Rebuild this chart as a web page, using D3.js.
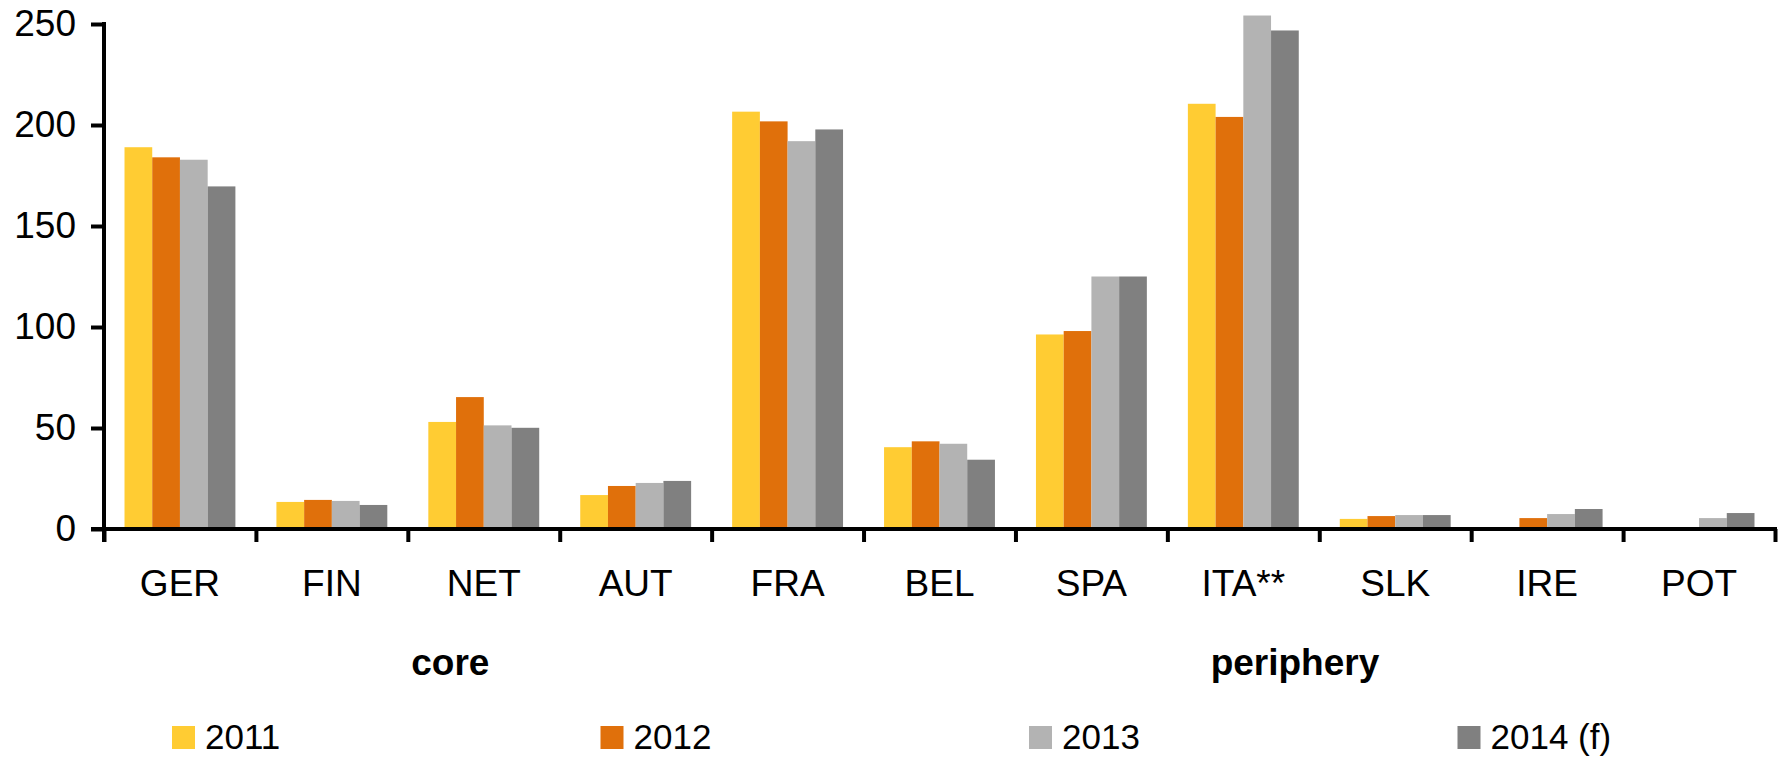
<!DOCTYPE html>
<html>
<head>
<meta charset="utf-8">
<script src="https://cdn.jsdelivr.net/npm/d3@7"></script>
<style>
  body { margin: 0; background: #fff; }
  svg { display: block; font-family: "Liberation Sans", Arial, sans-serif; }
</style>
</head>
<body>
<div id="chart"></div>
<script>
// data
const countries = ["GER", "FIN", "NET", "AUT", "FRA", "BEL", "SPA", "ITA**", "SLK", "IRE", "POT"];
const years = ["2011", "2012", "2013", "2014 (f)"];
const values2011 = [189, 13.4, 53, 16.8, 206.6, 40.5, 96.3, 210.5, 5, 0, 0];
const values2012 = [184, 14.4, 65.3, 21.3, 201.8, 43.4, 98, 204, 6.4, 5.4, 0];
const values2013 = [182.8, 13.9, 51.3, 22.8, 192, 42.2, 125, 254.2, 6.9, 7.4, 5.4];
const values2014 = [169.6, 11.9, 50.1, 23.8, 197.8, 34.3, 125, 246.8, 6.9, 9.9, 7.9];
const yTicks = [0, 50, 100, 150, 200, 250];
const groups = [{ name: "core", pos: 2.28 }, { name: "periphery", pos: 7.84 }];

const series = [values2011, values2012, values2013, values2014];
const colors = ["#FFCC33", "#E0700B", "#B3B3B3", "#808080"];

const width = 1779, height = 758;
const x0 = 104, x1 = 1775, yZero = 529, yTop = 24;

const svg = d3.select("#chart")
  .append("svg")
  .attr("width", width)
  .attr("height", height);

// scales
const x = d3.scaleBand()
  .domain(countries)
  .range([x0, x1])
  .paddingInner(0.27)
  .paddingOuter(0.135);

const xSub = d3.scaleBand()
  .domain(years)
  .range([0, x.bandwidth()]);

const xEdge = d3.scaleLinear()
  .domain([0, countries.length])
  .range([x0, x1]);

const y = d3.scaleLinear()
  .domain([0, 250])
  .range([yZero, yTop]);

// bars
const groupG = svg.selectAll(".country")
  .data(countries)
  .enter()
  .append("g")
  .attr("class", "country")
  .attr("transform", c => `translate(${x(c)},0)`);

groupG.selectAll("rect")
  .data((c, i) => years.map((yr, k) => ({ yr, k, v: series[k][i] })))
  .enter()
  .append("rect")
  .attr("x", d => xSub(d.yr))
  .attr("y", d => y(d.v))
  .attr("width", xSub.bandwidth())
  .attr("height", d => yZero - y(d.v))
  .attr("fill", d => colors[d.k]);

// y axis
const yAxis = svg.append("g")
  .attr("transform", `translate(${x0},0)`)
  .call(d3.axisLeft(y).tickValues(yTicks).tickSize(13).tickPadding(15).tickSizeOuter(0));
yAxis.select(".domain").remove();
yAxis.selectAll(".tick line").attr("stroke", "#000").attr("stroke-width", 4);
yAxis.selectAll(".tick text")
  .style("font-size", "37px")
  .attr("fill", "#000");

svg.append("line")
  .attr("x1", x0).attr("x2", x0)
  .attr("y1", y(250) - 2).attr("y2", yZero + 13)
  .attr("stroke", "#000").attr("stroke-width", 4);

// x axis: boundary ticks
const xAxis = svg.append("g")
  .attr("transform", `translate(0,${yZero})`)
  .call(d3.axisBottom(xEdge).ticks(countries.length).tickSize(13).tickFormat("").tickSizeOuter(0));
xAxis.select(".domain").remove();
xAxis.selectAll(".tick line").attr("stroke", "#000").attr("stroke-width", 4);

svg.append("line")
  .attr("x1", x0 - 13).attr("x2", x1 + 2)
  .attr("y1", yZero).attr("y2", yZero)
  .attr("stroke", "#000").attr("stroke-width", 4);

// category labels
svg.selectAll(".cat-label")
  .data(countries)
  .enter()
  .append("text")
  .attr("class", "cat-label")
  .attr("x", c => x(c) + x.bandwidth() / 2)
  .attr("y", 596)
  .attr("text-anchor", "middle")
  .style("font-size", "37px")
  .text(c => c);

// group labels
svg.selectAll(".grp-label")
  .data(groups)
  .enter()
  .append("text")
  .attr("class", "grp-label")
  .attr("x", g => xEdge(g.pos))
  .attr("y", 675)
  .attr("text-anchor", "middle")
  .style("font-size", "37px")
  .style("font-weight", "bold")
  .text(g => g.name);

// legend
const legend = svg.selectAll(".legend")
  .data(years)
  .enter()
  .append("g")
  .attr("class", "legend")
  .attr("transform", (d, i) => `translate(${172 + i * 428.5},726)`);

legend.append("rect")
  .attr("width", 23)
  .attr("height", 23)
  .attr("fill", (d, i) => colors[i]);

legend.append("text")
  .attr("x", 33)
  .attr("y", 23)
  .style("font-size", "35px")
  .text(d => d);
</script>
</body>
</html>
